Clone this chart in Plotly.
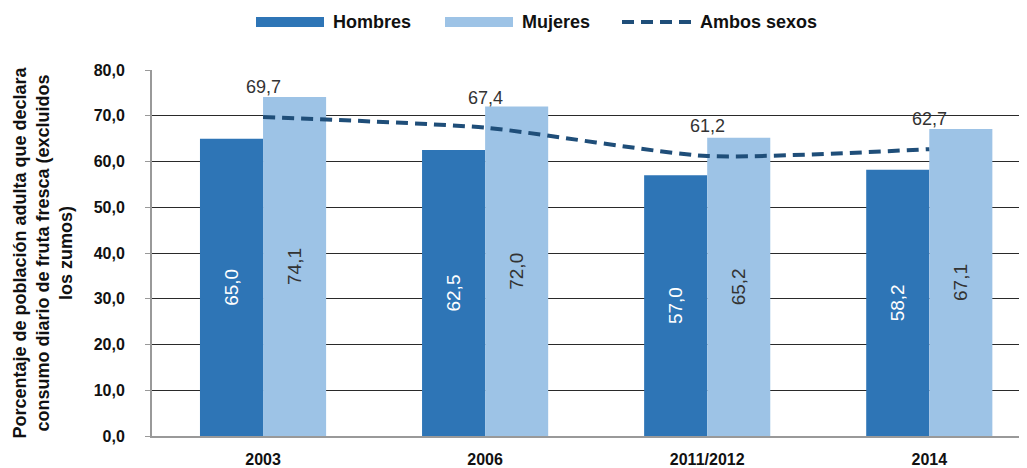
import plotly.graph_objects as go

categories = ["2003", "2006", "2011/2012", "2014"]
hombres = [65.0, 62.5, 57.0, 58.2]
mujeres = [74.1, 72.0, 65.2, 67.1]
ambos = [69.7, 67.4, 61.2, 62.7]
y_ticks = [0, 10, 20, 30, 40, 50, 60, 70, 80]
y_ticktext = [f"{v:.1f}".replace(".", ",") for v in y_ticks]
series_names = ["Hombres", "Mujeres", "Ambos sexos"]
series_colors = ["#2E75B6", "#9DC3E6", "#1F4E79"]

FONT = "Liberation Sans, Arial, sans-serif"
x_idx = list(range(len(categories)))

# the page body has an 8px margin, so the figure is drawn 8px lower/right
OFF = 8
W, H = 1027 - OFF, 468 - OFF
L, R, T, B = 152 - OFF, 0, 70 - OFF, 32
PW, PH = W - L - R, H - T - B


def px_x(px):
    return (px - OFF - L) / PW


def px_y(py):
    return 1 + (T - (py - OFF)) / PH


def fmt(v):
    return f"{v:.1f}".replace(".", ",")


fig = go.Figure()
fig.add_trace(go.Bar(
    x=x_idx, y=hombres, name=series_names[0], marker=dict(color=series_colors[0], line=dict(width=0)),
    text=[fmt(v) for v in hombres], textposition="inside",
    insidetextanchor="middle", textangle=-90,
    textfont=dict(family=FONT, size=19, color="white"),
))
fig.add_trace(go.Bar(
    x=x_idx, y=mujeres, name=series_names[1], marker=dict(color=series_colors[1], line=dict(width=0)),
    text=[fmt(v) for v in mujeres], textposition="inside",
    insidetextanchor="middle", textangle=-90,
    textfont=dict(family=FONT, size=19, color="#333333"),
))
fig.add_trace(go.Scatter(
    x=x_idx, y=ambos, name=series_names[2], mode="lines",
    line=dict(color=series_colors[2], width=4, dash="12px,7px", shape="spline", smoothing=0.6),
))
for i, v in zip(x_idx, ambos):
    fig.add_annotation(x=i, y=v, text=fmt(v), showarrow=False,
                       yshift=30, font=dict(family=FONT, size=18, color="#333333"))

# custom legend (wide swatches as in the reference)
legend_items = [
    (256, 324, 331),
    (445, 513, 520),
    (622, 693, 698),
]
for k, (x0, x1, tx) in enumerate(legend_items):
    if k < 2:
        fig.add_shape(type="rect", xref="paper", yref="paper",
                      x0=px_x(x0), x1=px_x(x1), y0=px_y(27), y1=px_y(17),
                      fillcolor=series_colors[k], line=dict(width=0))
    else:
        fig.add_shape(type="line", xref="paper", yref="paper",
                      x0=px_x(x0), x1=px_x(x1), y0=px_y(22), y1=px_y(22),
                      line=dict(color=series_colors[k], width=4, dash="12px,7px"))
    fig.add_annotation(xref="paper", yref="paper", x=px_x(tx), y=px_y(22),
                       xanchor="left", yanchor="middle", showarrow=False,
                       text=series_names[k],
                       font=dict(family=FONT, size=18, color="#111111", weight="bold"))

fig.update_layout(
    width=W, height=H,
    margin=dict(l=L, r=R, t=T, b=B, autoexpand=False),
    plot_bgcolor="white", paper_bgcolor="white",
    barmode="group", bargap=0.432, bargroupgap=0,
    font=dict(family=FONT, color="#111111"),
    showlegend=False,
    xaxis=dict(range=[-0.5, 3.44], tickvals=x_idx, ticktext=categories,
               tickfont=dict(family=FONT, size=16, color="#111111", weight="bold"),
               showgrid=False, showline=True, linecolor="#999999", linewidth=2,
               ticks="", ticklabelstandoff=8, automargin=False),
    yaxis=dict(range=[0, 80], tickvals=y_ticks, ticktext=y_ticktext,
               tickfont=dict(family=FONT, size=16, color="#111111", weight="bold"),
               showgrid=True, gridcolor="#2a2a2a", gridwidth=1,
               showline=True, linecolor="#999999", linewidth=2, zeroline=False,
               ticks="outside", ticklen=5, tickcolor="#999999", tickwidth=1,
               ticklabelstandoff=17, automargin=False,
               title=dict(text="Porcentaje de población adulta que declara<br>consumo diario de fruta fresca (excluidos<br>los zumos)",
                          font=dict(family=FONT, size=18, color="#111111", weight="bold"),
                          standoff=16)),
)
fig.write_html("out.html")
